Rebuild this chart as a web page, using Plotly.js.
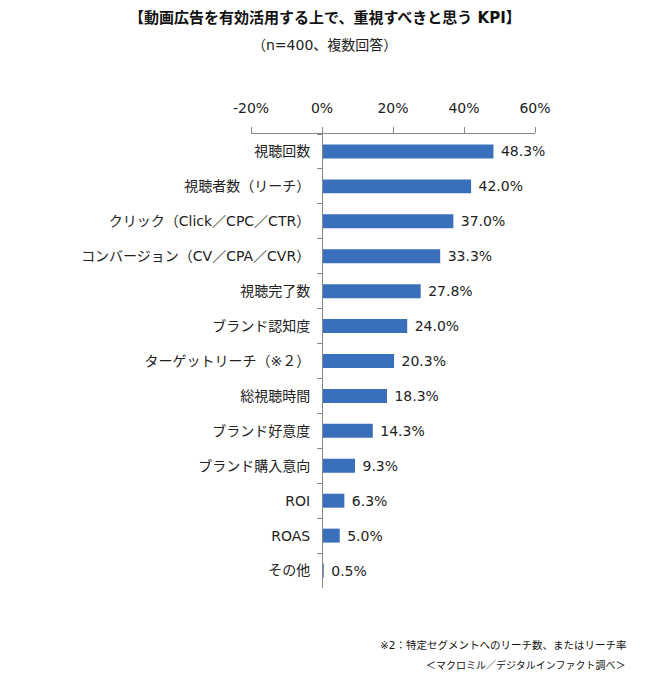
<!DOCTYPE html>
<html>
<head>
<meta charset="utf-8">
<script src="https://cdn.plot.ly/plotly-3.0.1.min.js"></script>
<style>html,body{margin:0;padding:0;background:#fff;}#chart{width:650px;height:698px;}</style>
</head>
<body>
<div id="chart"></div>
<script>
const categories = ["視聴回数","視聴者数（リーチ）","クリック（Click／CPC／CTR）","コンバージョン（CV／CPA／CVR）","視聴完了数","ブランド認知度","ターゲットリーチ（※２）","総視聴時間","ブランド好意度","ブランド購入意向","ROI","ROAS","その他"];
const values = [48.3,42.0,37.0,33.3,27.8,24.0,20.3,18.3,14.3,9.3,6.3,5.0,0.5];
const tickVals = [-20,0,20,40,60];
const tickText = ["-20%","0%","20%","40%","60%"];

const FONT = "DejaVu Sans, 'Noto Sans CJK JP', sans-serif";
const trace = {
  type: "bar",
  orientation: "h",
  x: values,
  y: categories,
  width: 0.4,
  marker: {color: "#3A6FBB", line: {width: 0}},
  text: values.map(v => " " + v.toFixed(1) + "%"),
  textposition: "outside",
  constraintext: "none",
  cliponaxis: false,
  textfont: {family: FONT, size: 14, color: "#222"},
  hoverinfo: "none"
};
const layout = {
  width: 650, height: 698,
  margin: {l: 251, r: 115, t: 134, b: 110},
  paper_bgcolor: "#fff", plot_bgcolor: "#fff",
  font: {family: FONT, size: 14, color: "#222"},
  showlegend: false,
  xaxis: {
    side: "top", range: [-20, 60], tickvals: tickVals, ticktext: tickText,
    showgrid: false, zeroline: false, showline: true, linecolor: "#888", linewidth: 1,
    ticks: "outside", ticklen: 6, tickcolor: "#888", ticklabelstandoff: 8,
    tickfont: {family: FONT, size: 14, color: "#222"},
    fixedrange: true
  },
  yaxis: {
    type: "category", autorange: "reversed", anchor: "free", position: 0.25,
    showgrid: false, zeroline: false, showline: true, linecolor: "#888", linewidth: 1,
    ticks: "outside", ticklen: 5, tickcolor: "#888", tickson: "boundaries", ticklabelstandoff: 9,
    tickfont: {family: FONT, size: 14, color: "#222"}, fixedrange: true
  },
  annotations: [
    {text: "<b>【動画広告を有効活用する上で、重視すべきと思う KPI】</b>", xref: "paper", yref: "paper", x: 0.26, y: 1, xanchor: "center", yanchor: "middle", yshift: 116, showarrow: false, font: {family: FONT, size: 15, color: "#111"}},
    {text: "（n=400、複数回答）", xref: "paper", yref: "paper", x: 0.26, y: 1, xanchor: "center", yanchor: "middle", yshift: 89, showarrow: false, font: {family: FONT, size: 14, color: "#222"}},
    {text: "※2：特定セグメントへのリーチ数、またはリーチ率", xref: "paper", yref: "paper", x: 1, y: 0, xanchor: "right", yanchor: "middle", xshift: 93, yshift: -57, showarrow: false, font: {family: FONT, size: 10.5, color: "#111"}},
    {text: "＜マクロミル／デジタルインファクト調べ＞", xref: "paper", yref: "paper", x: 1, y: 0, xanchor: "right", yanchor: "middle", xshift: 93, yshift: -77, showarrow: false, font: {family: FONT, size: 10, color: "#111"}}
  ]
};
Plotly.newPlot("chart", [trace], layout, {displayModeBar: false, staticPlot: true});
</script>
</body>
</html>
